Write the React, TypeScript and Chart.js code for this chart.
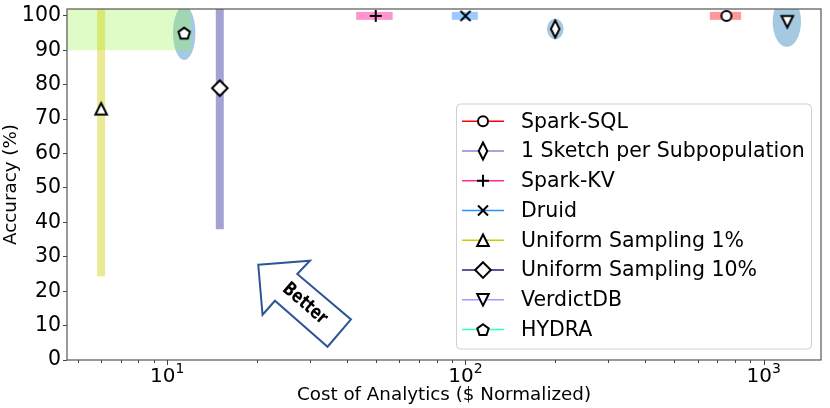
import React, { useEffect, useRef } from 'react';
import { Chart, registerables } from 'chart.js';

Chart.register(...registerables);

// ---------------- data ----------------
const seriesNames = [
  'Spark-SQL',
  '1 Sketch per Subpopulation',
  'Spark-KV',
  'Druid',
  'Uniform Sampling 1%',
  'Uniform Sampling 10%',
  'VerdictDB',
  'HYDRA',
];
const costValues = [750, 200, 50, 100, 6, 15, 1200, 11.4];
const accuracyValues = [100, 96.2, 100, 100, 73, 79, 98.3, 95];
const costErrors = [90, 0, 7, 10, 0, 0, 0, 0];
const accuracyErrors = [0, 0, 0, 0, 48.7, 41, 0, 0];
const ellipseCostRange: ([number, number] | null)[] = [null, [187.6, 213.3], null, null, null, null, [1072, 1334], [10.45, 12.43]];
const ellipseAccuracyHalf = [0, 3.0, 0, 0, 0, 0, 7.3, 7.8];
const targetCostMax = 12;
const targetAccuracyMin = 90;
const xMin = 4.61;
const xMax = 1557;
const yMin = 0;
const yMax = 102;
const yStep = 10;
const xTickExponents = [1, 2, 3];
const betterAnchor = { cost: 27.6, accuracy: 17.8 };
const xTitle = 'Cost of Analytics ($ Normalized)';
const yTitle = 'Accuracy (%)';
const betterText = 'Better';

// ---------------- styles ----------------
const lineColors = ['#ff0000', '#9080e0', '#ff2a95', '#2a90ff', '#cccc00', '#202080', '#a898ff', '#33ffcc'];
const markerKinds = ['circle', 'thinDiamond', 'plus', 'x', 'triangle', 'diamond', 'triangleDown', 'pentagon'];
const errorColors = [
  'rgba(255,0,0,0.4)',
  null,
  'rgba(255,20,147,0.45)',
  'rgba(30,144,255,0.45)',
  'rgba(204,204,0,0.42)',
  'rgba(0,0,128,0.36)',
  null,
  null,
];
const ellipseColor = 'rgba(31,119,180,0.4)';
const targetColor = 'rgba(150,245,70,0.3)';
const FONT = "'DejaVu Sans', 'Noto Sans', sans-serif";

function drawMarker(ctx: CanvasRenderingContext2D, kind: string, x: number, y: number) {
  ctx.save();
  ctx.translate(x, y);
  ctx.lineWidth = 2;
  ctx.strokeStyle = '#000';
  ctx.fillStyle = '#fff';
  ctx.lineJoin = 'miter';
  ctx.beginPath();
  let fill = true;
  switch (kind) {
    case 'circle':
      ctx.arc(0, 0, 5, 0, Math.PI * 2);
      break;
    case 'thinDiamond':
      ctx.moveTo(0, -8.5);
      ctx.lineTo(4.3, 0);
      ctx.lineTo(0, 8.5);
      ctx.lineTo(-4.3, 0);
      ctx.closePath();
      break;
    case 'diamond':
      ctx.moveTo(0, -7.8);
      ctx.lineTo(7.8, 0);
      ctx.lineTo(0, 7.8);
      ctx.lineTo(-7.8, 0);
      ctx.closePath();
      break;
    case 'triangle':
      ctx.moveTo(0, -5.8);
      ctx.lineTo(5.8, 5.8);
      ctx.lineTo(-5.8, 5.8);
      ctx.closePath();
      break;
    case 'triangleDown':
      ctx.moveTo(0, 5.8);
      ctx.lineTo(5.8, -5.8);
      ctx.lineTo(-5.8, -5.8);
      ctx.closePath();
      break;
    case 'pentagon':
      for (let i = 0; i < 5; i++) {
        const a = -Math.PI / 2 + (i * 2 * Math.PI) / 5;
        const px = 6 * Math.cos(a);
        const py = 6 * Math.sin(a) + 0.6;
        if (i === 0) ctx.moveTo(px, py);
        else ctx.lineTo(px, py);
      }
      ctx.closePath();
      break;
    case 'plus':
      fill = false;
      ctx.moveTo(-6, 0);
      ctx.lineTo(6, 0);
      ctx.moveTo(0, -6);
      ctx.lineTo(0, 6);
      break;
    case 'x':
      fill = false;
      ctx.moveTo(-5, -5);
      ctx.lineTo(5, 5);
      ctx.moveTo(-5, 5);
      ctx.lineTo(5, -5);
      break;
  }
  if (fill) ctx.fill();
  ctx.stroke();
  ctx.restore();
}

function makeMarkerCanvas(kind: string): HTMLCanvasElement {
  const c = document.createElement('canvas');
  c.width = 26;
  c.height = 26;
  const ctx = c.getContext('2d')!;
  drawMarker(ctx, kind, 13, 13);
  return c;
}

const decorPlugin = {
  id: 'decor',
  beforeDatasetsDraw(chart: any) {
    const { ctx, chartArea: a, scales } = chart;
    const xs = scales.x;
    const ys = scales.y;
    ctx.save();
    ctx.beginPath();
    ctx.rect(a.left, a.top, a.right - a.left, a.bottom - a.top);
    ctx.clip();

    // ellipses
    seriesNames.forEach((_, i) => {
      const r = ellipseCostRange[i];
      if (!r) return;
      const x0 = xs.getPixelForValue(r[0]);
      const x1 = xs.getPixelForValue(r[1]);
      const cy = ys.getPixelForValue(accuracyValues[i]);
      const ry = Math.abs(ys.getPixelForValue(accuracyValues[i] + ellipseAccuracyHalf[i]) - cy);
      ctx.beginPath();
      ctx.ellipse((x0 + x1) / 2, cy, (x1 - x0) / 2, ry, 0, 0, Math.PI * 2);
      ctx.fillStyle = ellipseColor;
      ctx.fill();
    });

    // target region
    const tx = xs.getPixelForValue(targetCostMax);
    const ty = ys.getPixelForValue(targetAccuracyMin);
    const tTop = ys.getPixelForValue(yMax);
    ctx.fillStyle = targetColor;
    ctx.fillRect(a.left, tTop, tx - a.left, ty - tTop);

    // error bars
    seriesNames.forEach((_, i) => {
      const col = errorColors[i];
      if (!col) return;
      ctx.fillStyle = col;
      const cx = xs.getPixelForValue(costValues[i]);
      const cy = ys.getPixelForValue(accuracyValues[i]);
      if (accuracyErrors[i] > 0) {
        const y0 = ys.getPixelForValue(accuracyValues[i] + accuracyErrors[i]);
        const y1 = ys.getPixelForValue(accuracyValues[i] - accuracyErrors[i]);
        ctx.fillRect(cx - 4, y0, 8, y1 - y0);
      }
      if (costErrors[i] > 0) {
        const x0 = xs.getPixelForValue(costValues[i] - costErrors[i]);
        const x1 = xs.getPixelForValue(costValues[i] + costErrors[i]);
        ctx.fillRect(x0, cy - 4, x1 - x0, 8);
      }
    });
    ctx.restore();
  },
  afterDraw(chart: any) {
    const { ctx, chartArea: a, scales } = chart;
    const xs = scales.x;
    const ys = scales.y;
    ctx.save();

    // frame
    ctx.strokeStyle = '#555';
    ctx.lineWidth = 1.2;
    ctx.strokeRect(a.left, a.top, a.right - a.left, a.bottom - a.top);

    // x ticks (log)
    ctx.strokeStyle = '#444';
    ctx.lineWidth = 1;
    const e0 = Math.floor(Math.log10(xs.min));
    const e1 = Math.ceil(Math.log10(xs.max));
    for (let e = e0; e <= e1; e++) {
      for (let d = 1; d <= 9; d++) {
        const v = d * Math.pow(10, e);
        if (v < xs.min || v > xs.max) continue;
        const px = Math.round(xs.getPixelForValue(v)) + 0.5;
        ctx.beginPath();
        ctx.moveTo(px, a.bottom);
        ctx.lineTo(px, a.bottom + (d === 1 ? 5 : 3));
        ctx.stroke();
      }
    }
    // x tick labels
    ctx.fillStyle = '#000';
    ctx.textBaseline = 'alphabetic';
    xTickExponents.forEach((e) => {
      const px = xs.getPixelForValue(Math.pow(10, e));
      ctx.font = `20px ${FONT}`;
      const w1 = ctx.measureText('10').width;
      ctx.font = `14px ${FONT}`;
      const w2 = ctx.measureText(String(e)).width;
      const start = px - (w1 + w2) / 2;
      ctx.font = `20px ${FONT}`;
      ctx.textAlign = 'left';
      ctx.fillText('10', start, a.bottom + 22);
      ctx.font = `14px ${FONT}`;
      ctx.fillText(String(e), start + w1, a.bottom + 13);
    });

    // axis titles
    ctx.font = `18.3px ${FONT}`;
    ctx.textAlign = 'center';
    ctx.textBaseline = 'middle';
    ctx.fillText(xTitle, (a.left + a.right) / 2, a.bottom + 35);
    ctx.save();
    ctx.translate(11, (a.top + a.bottom) / 2);
    ctx.rotate(-Math.PI / 2);
    ctx.fillText(yTitle, 0, 0);
    ctx.restore();

    // legend
    const bw = 355;
    const bh = 245;
    const bx = a.right - 10 - bw;
    const by = a.bottom - 11.5 - bh;
    ctx.beginPath();
    (ctx as any).roundRect(bx + 0.5, by + 0.5, bw, bh, 4);
    ctx.fillStyle = 'rgba(255,255,255,0.85)';
    ctx.fill();
    ctx.strokeStyle = '#d0d0d0';
    ctx.lineWidth = 1;
    ctx.stroke();
    ctx.font = `20.5px ${FONT}`;
    ctx.textAlign = 'left';
    ctx.textBaseline = 'middle';
    seriesNames.forEach((name, i) => {
      const cy = by + 17.7 + i * 29.77;
      ctx.strokeStyle = lineColors[i];
      ctx.lineWidth = 1.5;
      ctx.beginPath();
      ctx.moveTo(bx + 6, cy);
      ctx.lineTo(bx + 48, cy);
      ctx.stroke();
      drawMarker(ctx, markerKinds[i], bx + 27, cy);
      ctx.fillStyle = '#000';
      ctx.fillText(name, bx + 65, cy + 1);
    });

    // "Better" arrow
    const ax = xs.getPixelForValue(betterAnchor.cost);
    const ay = ys.getPixelForValue(betterAnchor.accuracy);
    const pts = [
      [-40.5, -34],
      [11.2, -38],
      [-1.5, -24.7],
      [52.2, 20.7],
      [28.8, 48],
      [-23.8, 2],
      [-36.2, 16],
    ];
    ctx.beginPath();
    pts.forEach(([dx, dy], k) => {
      if (k === 0) ctx.moveTo(ax + dx, ay + dy);
      else ctx.lineTo(ax + dx, ay + dy);
    });
    ctx.closePath();
    ctx.fillStyle = '#fff';
    ctx.fill();
    ctx.strokeStyle = '#2f5597';
    ctx.lineWidth = 2;
    ctx.lineJoin = 'miter';
    ctx.stroke();
    ctx.save();
    ctx.translate(ax + 6, ay + 5);
    ctx.rotate((40.8 * Math.PI) / 180);
    ctx.scale(0.78, 1);
    ctx.font = `bold 19px ${FONT}`;
    ctx.fillStyle = '#000';
    ctx.textAlign = 'center';
    ctx.textBaseline = 'middle';
    ctx.fillText(betterText, 0, 0);
    ctx.restore();

    ctx.restore();
  },
};

export default function App() {
  const ref = useRef<HTMLCanvasElement | null>(null);
  useEffect(() => {
    document.body.style.margin = '0';
    const canvas = ref.current!;
    const markerCanvases = markerKinds.map(makeMarkerCanvas);
    const chart = new Chart(canvas, {
      type: 'scatter',
      data: {
        datasets: seriesNames.map((name, i) => ({
          label: name,
          data: [{ x: costValues[i], y: accuracyValues[i] }],
          pointStyle: markerCanvases[i] as any,
          pointRadius: 8,
          showLine: false,
          borderColor: lineColors[i],
          backgroundColor: lineColors[i],
        })),
      },
      options: {
        animation: false,
        responsive: false,
        maintainAspectRatio: false,
        devicePixelRatio: 1,
        layout: { padding: { top: 4, right: 4, left: 0, bottom: 0 } },
        plugins: { legend: { display: false }, tooltip: { enabled: false } },
        scales: {
          x: {
            type: 'logarithmic',
            min: xMin,
            max: xMax,
            ticks: { display: false },
            grid: { display: false },
            border: { display: false },
            afterFit: (s: any) => {
              s.height = 48;
              s.paddingLeft = 0;
              s.paddingRight = 0;
            },
          },
          y: {
            type: 'linear',
            min: yMin,
            max: yMax,
            ticks: {
              stepSize: yStep,
              includeBounds: false,
              font: { family: FONT, size: 20.5 },
              color: '#000',
              padding: 2,
            },
            grid: { drawOnChartArea: false, tickLength: 4, tickColor: '#444' },
            border: { display: false },
            afterFit: (s: any) => {
              s.width = 67;
              s.paddingTop = 0;
              s.paddingBottom = 0;
            },
          },
        },
      } as any,
      plugins: [decorPlugin],
    });
    return () => chart.destroy();
  }, []);
  return (
    <div style={{ position: 'absolute', left: 0, top: 0, width: 830, height: 408 }}>
      <canvas ref={ref} width={830} height={408} style={{ display: 'block' }} />
    </div>
  );
}
